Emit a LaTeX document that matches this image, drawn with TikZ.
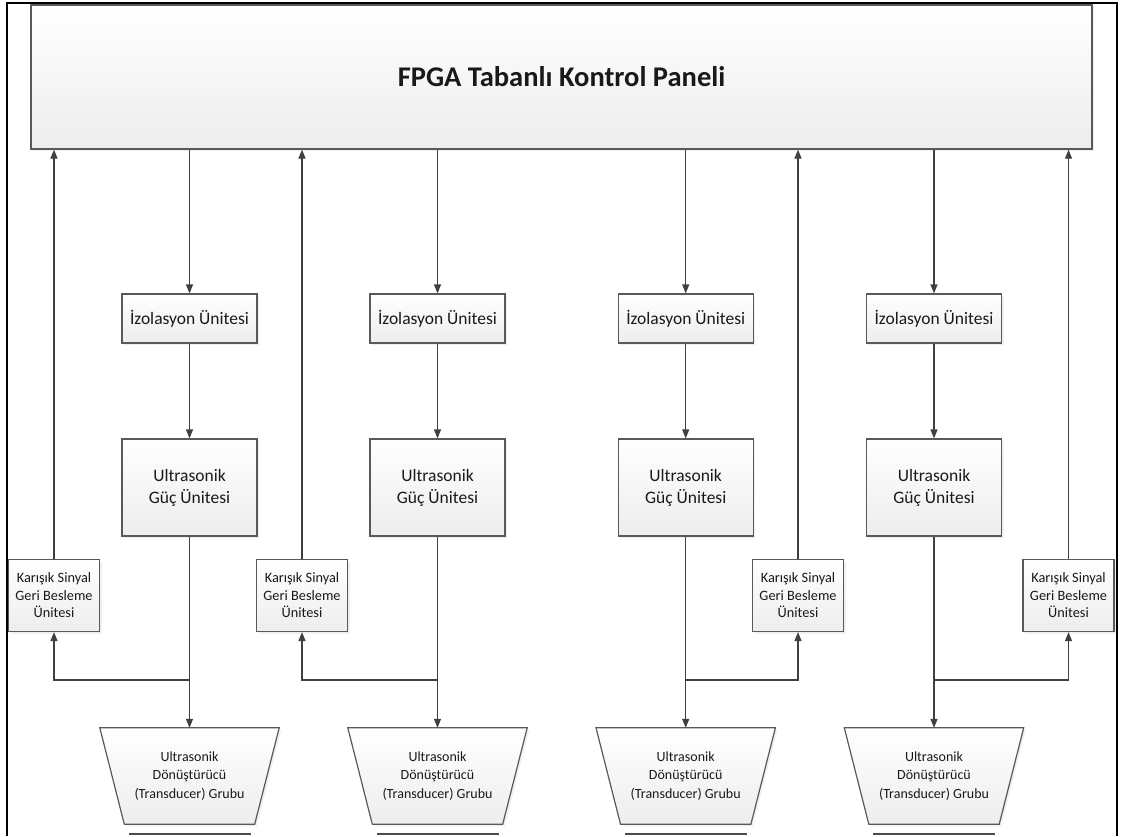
\documentclass[tikz,border=0pt]{standalone}
\usepackage{fontspec}
\setmainfont{Carlito}
\usetikzlibrary{arrows.meta}
\usetikzlibrary{shadows}

\begin{document}
\begin{tikzpicture}[
      x=1pt, y=-1pt,
      box/.style={draw=black!65, line width=1.2pt, top color=white, bottom color=black!7,
        drop shadow={shadow xshift=2pt, shadow yshift=-2pt, opacity=0.12}},
      unit/.style={box, align=center, inner sep=0pt, text=black!90,
        minimum width=135pt, font=\fontsize{17.5}{22}\selectfont},
      feedback/.style={unit, minimum width=91pt, minimum height=72pt, font=\fontsize{14.3}{17.5}\selectfont},
      transducer/.style={minimum width=179pt, minimum height=96pt, inner sep=0pt},
      arr/.style={draw=black!75, line width=1.2pt, -{Triangle[length=9pt,width=7pt]}}
    ]
    \useasboundingbox (0,0) rectangle (1121,836);
    % dis cerceve
    \draw[line width=2pt] (7,836) -- (7,3) -- (1117,3) -- (1117,836);

    \node[unit, minimum width=1061pt, minimum height=144pt,
      font=\fontsize{28.5}{34}\selectfont\bfseries] (panel) at (561.5,77) {FPGA Tabanlı Kontrol Paneli};

    % kanallar
    \foreach \i/\x/\f in {1/189.5/54, 2/437.5/302, 3/685.7/798, 4/934/1068.5} {
      \node[unit, minimum height=49pt] (iso\i) at (\x,318.5) {İzolasyon Ünitesi};
      \node[unit, minimum height=97pt] (guc\i) at (\x,487.5) {Ultrasonik\\Güç Ünitesi};
      \node[feedback] (fb\i) at (\f,595.5) {Karışık Sinyal\\Geri Besleme\\Ünitesi};
      \node[transducer] (tr\i) at (\x,776) {};
      \draw[box] (tr\i.north west) -- (tr\i.north east) -- ([xshift=-24.5pt]tr\i.south east)
        -- ([xshift=24.5pt]tr\i.south west) -- cycle;
      \node[align=center, text=black!90, font=\fontsize{14}{18.5}\selectfont] (trtext\i) at (tr\i.center)
        {Ultrasonik\\Dönüştürücü\\(Transducer) Grubu};
      \coordinate (j\i) at (\x,680);

      \draw[arr] (iso\i |- panel.south) -- (iso\i.north);
      \draw[arr] (iso\i.south) -- (guc\i.north);
      \draw[arr] (guc\i.south) -- (tr\i.north);
      \draw[arr] (j\i) -| (fb\i.south);
      \draw[arr] (fb\i.north) -- (fb\i |- panel.south);
      \draw[draw=black!70, line width=1.5pt] ({\x-61},834) -- ({\x+61},834);
    }
  \end{tikzpicture}
\end{document}
